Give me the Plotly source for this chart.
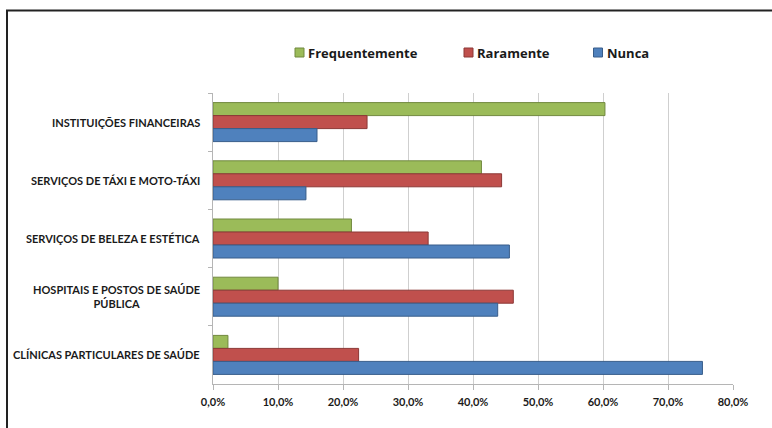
import plotly.graph_objects as go

# Survey categories (top to bottom) and share of answers per frequency, in %
categorias = [
    "INSTITUIÇÕES FINANCEIRAS",
    "SERVIÇOS DE TÁXI E MOTO-TÁXI",
    "SERVIÇOS DE BELEZA E ESTÉTICA",
    "HOSPITAIS E POSTOS DE SAÚDE<br>PÚBLICA",
    "CLÍNICAS PARTICULARES DE SAÚDE",
]
frequentemente = [60.3, 41.3, 21.3, 10.0, 2.3]
raramente = [23.7, 44.4, 33.1, 46.2, 22.4]
nunca = [16.0, 14.3, 45.6, 43.8, 75.3]

x_ticks = [0, 10, 20, 30, 40, 50, 60, 70, 80]
x_tick_labels = ["0,0%", "10,0%", "20,0%", "30,0%", "40,0%", "50,0%", "60,0%", "70,0%", "80,0%"]

series = [
    ("Frequentemente", frequentemente, "#9BBB59", "#71893F"),
    ("Raramente", raramente, "#C0504D", "#8C3836"),
    ("Nunca", nunca, "#4F81BD", "#385D8A"),
]

W, H = 772, 428
ML, MR, MT, MB = 213, 39, 93, 44
PW, PH = W - ML - MR, H - MT - MB


def paper_x(px):
    return (px - ML) / PW


def paper_y(py):
    return (H - MB - py) / PH


FONT = "Lato, 'Open Sans', sans-serif"
LEGEND_FONT = "'Open Sans', Lato, sans-serif"
TEXT = "#1a1a1a"

fig = go.Figure()
for nome, valores, cor, borda in series:
    fig.add_trace(go.Bar(
        name=nome,
        y=categorias,
        x=valores,
        orientation="h",
        marker=dict(color=cor, line=dict(color=borda, width=1)),
        showlegend=False,
        hovertemplate="%{y}: %{x:.1f}%<extra>" + nome + "</extra>",
    ))

# Category labels (centered multi-line text, right edge next to the axis)
annotations = []
for cat in categorias:
    annotations.append(dict(
        x=0, xref="paper", y=cat, yref="y",
        text="<b>" + cat + "</b>", showarrow=False,
        xanchor="right", yanchor="middle", align="center", xshift=-11,
        font=dict(family=FONT, size=11, color=TEXT),
    ))

# Legend row above the plot
shapes = []
legend_x = [295, 464, 593.5]
for (nome, _, cor, borda), lx in zip(series, legend_x):
    shapes.append(dict(
        type="rect", xref="paper", yref="paper",
        x0=paper_x(lx), x1=paper_x(lx + 9),
        y0=paper_y(57), y1=paper_y(48),
        fillcolor=cor, line=dict(color=borda, width=1),
    ))
    annotations.append(dict(
        x=paper_x(lx + 11), xref="paper", y=paper_y(52.5), yref="paper",
        text="<b>" + nome + "</b>", showarrow=False,
        xanchor="left", yanchor="middle",
        font=dict(family=LEGEND_FONT, size=13, color=TEXT),
    ))

# Outer chart frame
shapes.append(dict(
    type="rect", xref="paper", yref="paper",
    x0=paper_x(7), x1=paper_x(W + 20),
    y0=paper_y(H + 20), y1=paper_y(10.5),
    line=dict(color="#222222", width=2), fillcolor="rgba(0,0,0,0)",
    layer="above",
))

fig.update_layout(
    width=W, height=H,
    margin=dict(l=ML, r=MR, t=MT, b=MB),
    paper_bgcolor="white", plot_bgcolor="white",
    barmode="group", bargap=0.33, bargroupgap=0,
    font=dict(family=FONT, color=TEXT),
    annotations=annotations,
    shapes=shapes,
    xaxis=dict(
        range=[0, 80], tickvals=x_ticks, ticktext=["<b>" + t + "</b>" for t in x_tick_labels],
        showgrid=True, gridcolor="#cfcfcf", gridwidth=1,
        showline=True, linecolor="#b5b5b5", linewidth=1,
        ticks="outside", ticklen=5, tickcolor="#b5b5b5",
        ticklabelstandoff=3,
        tickfont=dict(family=FONT, size=11, color=TEXT),
        zeroline=False, fixedrange=True,
    ),
    yaxis=dict(
        type="category", autorange="reversed",
        showticklabels=False, showgrid=False,
        showline=True, linecolor="#b5b5b5", linewidth=1,
        ticks="outside", ticklen=4, tickcolor="#b5b5b5", tickson="boundaries",
        fixedrange=True,
    ),
)

fig.write_html("out.html")
